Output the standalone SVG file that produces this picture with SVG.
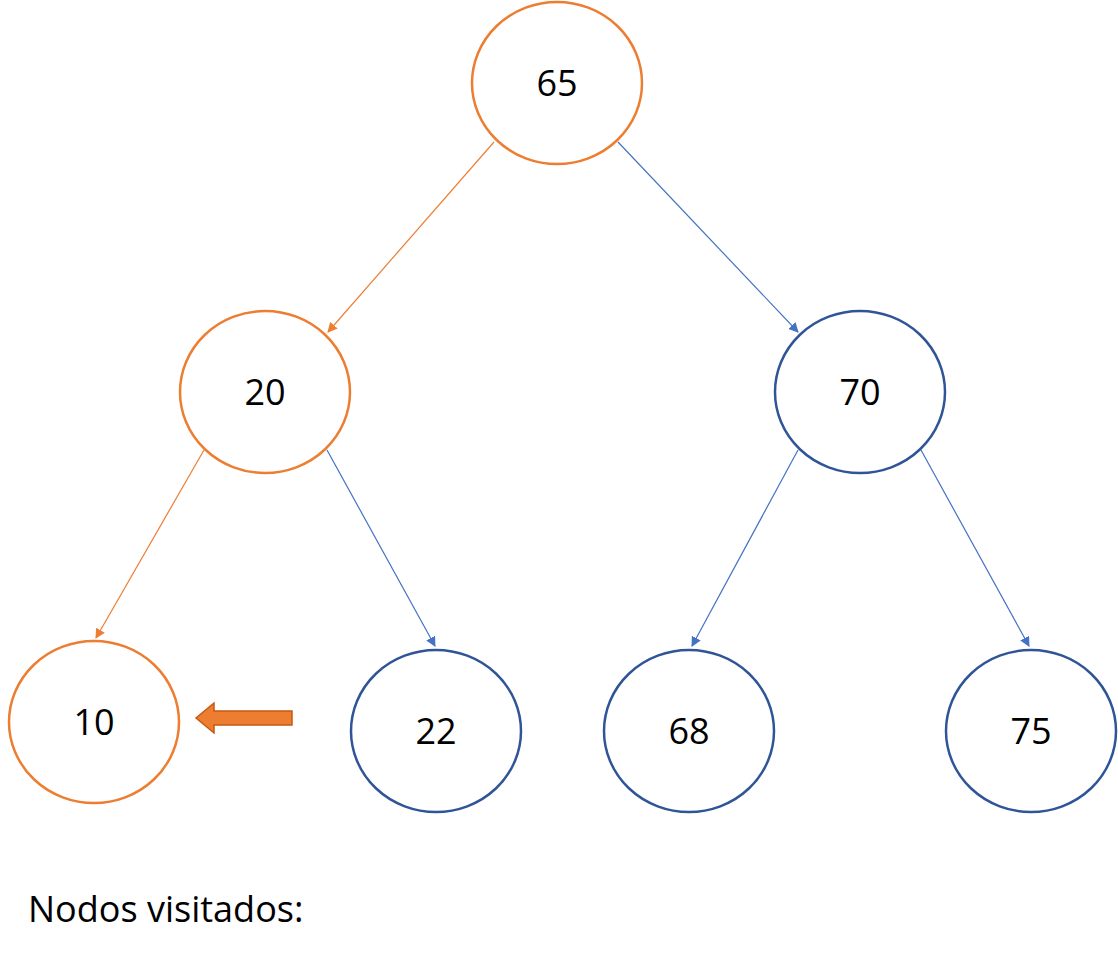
<svg xmlns="http://www.w3.org/2000/svg" width="1118" height="960" viewBox="0 0 1118 960">
<style>
.o{fill:#fff;stroke:#ED7D31;stroke-width:2.5}
.b{fill:#fff;stroke:#2F5597;stroke-width:2.5}
text{font-family:"Open Sans","Liberation Sans",sans-serif;font-size:36px;fill:#000;text-anchor:middle}
.lo{stroke:#ED7D31;stroke-width:1.2}
.lb{stroke:#4472C4;stroke-width:1.2}
</style>
<defs>
<marker id="ao" markerWidth="10" markerHeight="10" refX="9" refY="5" orient="auto" markerUnits="userSpaceOnUse"><path d="M0,0L10,5L0,10z" fill="#ED7D31"/></marker>
<marker id="ab" markerWidth="10" markerHeight="10" refX="9" refY="5" orient="auto" markerUnits="userSpaceOnUse"><path d="M0,0L10,5L0,10z" fill="#4472C4"/></marker>
</defs>
<rect width="1118" height="960" fill="#fff"/>
<g id="connectors">
<line class="lo" x1="494" y1="142" x2="328" y2="332" marker-end="url(#ao)"/>
<line class="lb" x1="618" y1="142" x2="798" y2="332" marker-end="url(#ab)"/>
<line class="lo" x1="204" y1="450" x2="96" y2="638" marker-end="url(#ao)"/>
<line class="lb" x1="327" y1="450" x2="435" y2="646" marker-end="url(#ab)"/>
<line class="lb" x1="798" y1="450" x2="692" y2="646" marker-end="url(#ab)"/>
<line class="lb" x1="921" y1="450" x2="1029" y2="646" marker-end="url(#ab)"/>
</g>
<g id="n65"><ellipse class="o" cx="557" cy="83" rx="85" ry="81"/><text x="557" y="96">65</text></g>
<g id="n20"><ellipse class="o" cx="265" cy="392" rx="85" ry="81"/><text x="265" y="405">20</text></g>
<g id="n70"><ellipse class="b" cx="860" cy="392" rx="85" ry="81"/><text x="860" y="405">70</text></g>
<g id="n10"><ellipse class="o" cx="94" cy="722" rx="85" ry="81"/><text x="94" y="735">10</text></g>
<g id="n22"><ellipse class="b" cx="436" cy="731" rx="85" ry="81"/><text x="436" y="744">22</text></g>
<g id="n68"><ellipse class="b" cx="689" cy="731" rx="85" ry="81"/><text x="689" y="744">68</text></g>
<g id="n75"><ellipse class="b" cx="1031" cy="731" rx="85" ry="81"/><text x="1031" y="744">75</text></g>
<g id="pointer"><path d="M292,711H214V703L196,718L214,733V725H292z" fill="#ED7D31" stroke="#C55A11" stroke-width="1.5"/></g>
<text x="28" y="922" style="text-anchor:start">Nodos visitados:</text>
</svg>
